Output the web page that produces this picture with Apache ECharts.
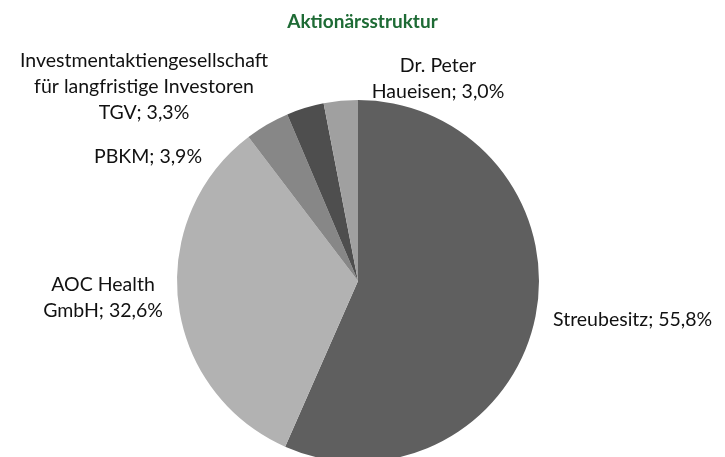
<!DOCTYPE html>
<html lang="de">
<head>
    <meta charset="UTF-8">
    <title>Aktionärsstruktur</title>
    <script src="https://cdn.jsdelivr.net/npm/echarts/dist/echarts.min.js"></script>
    <style>
        body { margin: 0; background: #fff; }
        #chart { width: 725px; height: 457px; }
    </style>
</head>
<body>
    <div id="chart"></div>
    <script>
        // Shareholder data (clockwise from 12 o'clock)
        var names = [
            'Streubesitz',
            'AOC Health\nGmbH',
            'PBKM',
            'Investmentaktiengesellschaft\nfür langfristige Investoren\nTGV',
            'Dr. Peter\nHaueisen'
        ];
        var shares = [55.8, 32.6, 3.9, 3.3, 3.0];
        var colors = ['#5f5f5f', '#b2b2b2', '#878787', '#4e4e4e', '#a0a0a0'];

        // label placement (center of text block)
        var labelPos = [
            { x: 553, y: 320, align: 'left' },
            { x: 103, y: 298, align: 'center' },
            { x: 148, y: 157, align: 'center' },
            { x: 144, y: 87, align: 'center' },
            { x: 438, y: 79, align: 'center' }
        ];

        var chart = echarts.init(document.getElementById('chart'));

        var pieData = names.map(function (n, i) {
            return { name: n, value: shares[i], itemStyle: { color: colors[i] } };
        });

        chart.setOption({
            animation: false,
            title: {
                text: 'Aktionärsstruktur',
                left: 'center',
                top: 7,
                textStyle: {
                    color: '#1e6b35',
                    fontFamily: 'Lato',
                    fontWeight: 'bold',
                    fontSize: 19
                }
            },
            series: [{
                type: 'pie',
                center: [358, 281],
                radius: 181,
                startAngle: 90,
                clockwise: true,
                data: pieData,
                itemStyle: { borderWidth: 0 },
                label: {
                    show: true,
                    position: 'outside',
                    color: '#111',
                    fontFamily: 'Lato',
                    fontSize: 19.5,
                    lineHeight: 26,
                    overflow: 'none',
                    formatter: function (p) {
                        return p.name + '; ' + p.value.toFixed(1).replace('.', ',') + '%';
                    }
                },
                labelLine: { show: false },
                labelLayout: function (params) {
                    var p = labelPos[params.dataIndex];
                    return { x: p.x, y: p.y, align: p.align, verticalAlign: 'middle' };
                }
            }]
        });
    </script>
</body>
</html>
